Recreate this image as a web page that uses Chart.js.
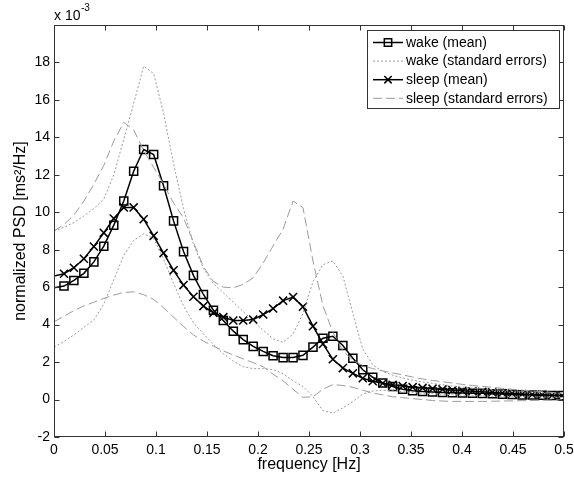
<!DOCTYPE html>
<html>
<head>
<meta charset="utf-8">
<script src="https://cdn.jsdelivr.net/npm/chart.js@4/dist/chart.umd.min.js"></script>
<style>
html,body{margin:0;padding:0;background:#fff;}
#wrap{width:574px;height:477px;position:relative;}
</style>
</head>
<body>
<div id="wrap"><canvas id="c" width="574" height="477"></canvas></div>
<script>
// frequency bins [Hz]
const freq = [0, 0.0098, 0.0195, 0.0293, 0.0391, 0.0488, 0.0586, 0.0684, 0.0781, 0.0879,
  0.0977, 0.1074, 0.1172, 0.1270, 0.1367, 0.1465, 0.1563, 0.1660, 0.1758, 0.1855,
  0.1953, 0.2051, 0.2148, 0.2246, 0.2344, 0.2441, 0.2539, 0.2637, 0.2734, 0.2832,
  0.2930, 0.3027, 0.3125, 0.3223, 0.3320, 0.3418, 0.3516, 0.3613, 0.3711, 0.3809,
  0.3906, 0.4004, 0.4102, 0.4199, 0.4297, 0.4395, 0.4492, 0.4590, 0.4688, 0.4785,
  0.4883, 0.4980];

// normalized PSD (x 10^-3)
const wakeMean = [5.97, 6.06, 6.36, 6.74, 7.35, 8.19, 9.31, 10.6, 12.19, 13.35,
  13.08, 11.42, 9.54, 7.9, 6.63, 5.61, 4.77, 4.22, 3.65, 3.2,
  2.84, 2.57, 2.34, 2.24, 2.24, 2.36, 2.8, 3.27, 3.38, 2.89,
  2.21, 1.59, 1.19, 0.88, 0.7, 0.55, 0.47, 0.43, 0.40, 0.38,
  0.36, 0.35, 0.34, 0.33, 0.31, 0.29, 0.27, 0.25, 0.24, 0.23,
  0.22, 0.21];
const wakeUpper = [9.0, 9.2, 9.45, 9.8, 10.2, 10.7, 12.0, 13.9, 15.8, 17.8,
  17.4, 15.3, 12.6, 10.2, 8.3, 7.0, 6.2, 5.7, 5.2, 4.7,
  4.2, 3.7, 3.25, 3.05, 3.5, 4.6, 6.3, 7.2, 7.4, 6.6,
  4.6, 2.7, 1.85, 1.5, 1.3, 1.15, 1.03, 0.94, 0.86, 0.79,
  0.72, 0.66, 0.61, 0.57, 0.53, 0.49, 0.46, 0.43, 0.40, 0.37,
  0.35, 0.33];
const wakeLower = [2.8, 3.1, 3.45, 3.85, 4.25, 5.1, 6.4, 7.7, 8.5, 8.85,
  8.6, 7.5, 6.2, 5.0, 4.1, 3.5, 2.95, 2.45, 2.05, 1.75,
  1.65, 1.65, 1.6, 1.38, 1.0, 0.7, 0.15, -0.6, -0.72, -0.45,
  -0.1, 0.3, 0.45, 0.5, 0.47, 0.42, 0.38, 0.34, 0.31, 0.28,
  0.26, 0.24, 0.22, 0.20, 0.18, 0.17, 0.16, 0.15, 0.14, 0.13,
  0.12, 0.11];
const sleepMean = [6.6, 6.72, 7.04, 7.52, 8.17, 8.9, 9.67, 10.26, 10.26, 9.63,
  8.74, 7.82, 6.9, 6.11, 5.49, 4.99, 4.63, 4.4, 4.22, 4.22,
  4.27, 4.54, 4.86, 5.28, 5.47, 4.96, 3.92, 2.97, 2.15, 1.68,
  1.4, 1.14, 0.98, 0.87, 0.79, 0.72, 0.66, 0.62, 0.58, 0.54,
  0.5, 0.47, 0.44, 0.41, 0.38, 0.35, 0.32, 0.29, 0.27, 0.25,
  0.23, 0.21];
const sleepUpper = [9.0, 9.35, 9.85, 10.6, 11.5, 12.5, 13.8, 14.8, 14.4, 13.3,
  12.4, 11.5, 10.5, 9.7, 8.4, 7.1, 6.3, 6.0, 5.97, 6.15,
  6.5, 7.3, 8.2, 9.1, 10.6, 10.25, 7.4, 5.0, 3.6, 2.6,
  2.1, 1.82, 1.65, 1.53, 1.42, 1.32, 1.2, 1.1, 1.02, 0.95,
  0.88, 0.81, 0.75, 0.7, 0.65, 0.6, 0.55, 0.5, 0.46, 0.42,
  0.38, 0.34];
const sleepLower = [4.15, 4.45, 4.75, 5.0, 5.2, 5.4, 5.58, 5.72, 5.75, 5.6,
  5.35, 4.9, 4.4, 3.9, 3.45, 3.12, 2.85, 2.6, 2.38, 2.17,
  1.97, 1.75, 1.35, 1.0, 0.55, 0.12, 0.15, 0.55, 0.8, 0.75,
  0.65, 0.5, 0.35, 0.25, 0.15, 0.1, 0.05, 0.0, -0.05, -0.08,
  -0.1, -0.1, -0.1, -0.1, -0.09, -0.08, -0.07, -0.06, -0.05, -0.04,
  -0.03, -0.02];

const xTicks = [0, 0.05, 0.1, 0.15, 0.2, 0.25, 0.3, 0.35, 0.4, 0.45, 0.5];
const yTicks = [-2, 0, 2, 4, 6, 8, 10, 12, 14, 16, 18];
const legendLabels = ['wake (mean)', 'wake (standard errors)', 'sleep (mean)', 'sleep (standard errors)'];

const FONT = "'Liberation Sans', Arial, Helvetica, sans-serif";
const toPts = arr => freq.map((f, i) => ({x: f, y: arr[i]}));
const noFirst = ctx => (ctx.dataIndex === 0 ? 0 : 5.7);

const STD_COLOR = '#9b9b9b';
const wakeStd = {borderColor: STD_COLOR, borderWidth: 1, borderDash: [2, 2], pointRadius: 0};
const sleepStd = {borderColor: STD_COLOR, borderWidth: 1, borderDash: [9, 4], pointRadius: 0};

const datasets = [
  Object.assign({label: 'wake upper', data: toPts(wakeUpper)}, wakeStd),
  Object.assign({label: 'wake lower', data: toPts(wakeLower)}, wakeStd),
  Object.assign({label: 'sleep upper', data: toPts(sleepUpper)}, sleepStd),
  Object.assign({label: 'sleep lower', data: toPts(sleepLower)}, sleepStd),
  {label: 'sleep (mean)', data: toPts(sleepMean), borderColor: '#000', borderWidth: 1.5,
   pointStyle: 'crossRot', pointRadius: noFirst, pointBorderColor: '#000', pointBorderWidth: 1.5,
   pointBackgroundColor: 'rgba(0,0,0,0)'},
  {label: 'wake (mean)', data: toPts(wakeMean), borderColor: '#000', borderWidth: 1.5,
   pointStyle: 'rect', pointRadius: noFirst, pointBorderColor: '#000', pointBorderWidth: 1.5,
   pointBackgroundColor: 'rgba(0,0,0,0)'}
];

const legendItems = [
  {text: legendLabels[0], color: '#000', width: 1.5, dash: [], marker: 'rect'},
  {text: legendLabels[1], color: STD_COLOR, width: 1, dash: [2, 2], marker: null},
  {text: legendLabels[2], color: '#000', width: 1.5, dash: [], marker: 'crossRot'},
  {text: legendLabels[3], color: STD_COLOR, width: 1, dash: [9, 4], marker: null}
];

const framePlugin = {
  id: 'frame',
  afterDraw(chart) {
    const ctx = chart.ctx;
    const a = chart.chartArea;
    const xs = chart.scales.x, ys = chart.scales.y;
    const L = Math.round(a.left) + 0.5, R = Math.round(a.right) - 0.5;
    const T = Math.round(a.top) + 0.5, B = Math.round(a.bottom) - 0.5;
    ctx.save();
    ctx.strokeStyle = '#333';
    ctx.lineWidth = 1;
    ctx.setLineDash([]);
    ctx.strokeRect(L, T, R - L, B - T);
    const tl = 5;
    ctx.beginPath();
    xTicks.forEach(v => {
      const px = Math.round(xs.getPixelForValue(v)) + 0.5;
      ctx.moveTo(px, B); ctx.lineTo(px, B - tl);
      ctx.moveTo(px, T); ctx.lineTo(px, T + tl);
    });
    yTicks.forEach(v => {
      const py = Math.round(ys.getPixelForValue(v)) + 0.5;
      ctx.moveTo(L, py); ctx.lineTo(L + tl, py);
      ctx.moveTo(R, py); ctx.lineTo(R - tl, py);
    });
    ctx.stroke();

    // exponent label
    ctx.fillStyle = '#000';
    ctx.textBaseline = 'alphabetic';
    ctx.textAlign = 'left';
    ctx.font = '14px ' + FONT;
    ctx.fillText('x 10', 54, 20);
    const w = ctx.measureText('x 10').width;
    ctx.font = '10px ' + FONT;
    ctx.fillText('-3', 54 + w + 0.5, 11);

    // legend
    const bx = 367.5, by = 30.5, bw = 192, bh = 78;
    ctx.fillStyle = '#fff';
    ctx.fillRect(bx, by, bw, bh);
    ctx.strokeStyle = '#333';
    ctx.lineWidth = 1;
    ctx.strokeRect(bx, by, bw, bh);
    ctx.font = '14px ' + FONT;
    ctx.textBaseline = 'middle';
    legendItems.forEach((it, i) => {
      const cy = 42.5 + i * 18.6;
      ctx.save();
      ctx.strokeStyle = it.color;
      ctx.lineWidth = it.width;
      ctx.setLineDash(it.dash);
      ctx.beginPath();
      ctx.moveTo(373, cy); ctx.lineTo(403, cy);
      ctx.stroke();
      ctx.restore();
      if (it.marker) {
        ctx.save();
        ctx.strokeStyle = '#000';
        ctx.fillStyle = 'rgba(0,0,0,0)';
        ctx.lineWidth = 1.5;
        Chart.helpers.drawPoint(ctx, {pointStyle: it.marker, radius: 5.2, rotation: 0, borderWidth: 1.5}, 388, cy);
        ctx.restore();
      }
      ctx.fillStyle = '#000';
      ctx.fillText(it.text, 406, cy + 0.5);
    });
    ctx.restore();
  }
};

new Chart(document.getElementById('c'), {
  type: 'line',
  data: {datasets},
  options: {
    responsive: false,
    animation: false,
    devicePixelRatio: 1,
    layout: {padding: {top: 25, right: 10, left: 0, bottom: 0}},
    plugins: {legend: {display: false}, tooltip: {enabled: false}},
    elements: {line: {tension: 0, fill: false}},
    scales: {
      x: {
        type: 'linear', min: 0, max: 0.5,
        afterBuildTicks: s => { s.ticks = xTicks.map(v => ({value: v})); },
        afterFit: s => { s.height = 40; s.paddingLeft = 0; s.paddingRight = 0; },
        grid: {display: false, drawTicks: false},
        border: {display: false},
        ticks: {color: '#000', font: {family: FONT, size: 14}, padding: 5,
                maxRotation: 0, autoSkip: false, callback: v => String(v)},
        title: {display: true, text: 'frequency [Hz]', color: '#000',
                font: {family: FONT, size: 16}, padding: {top: 0, bottom: 3}}
      },
      y: {
        type: 'linear', min: -2, max: 20,
        afterBuildTicks: s => { s.ticks = yTicks.map(v => ({value: v})); },
        afterFit: s => { s.width = 54; s.paddingTop = 0; s.paddingBottom = 0; },
        grid: {display: false, drawTicks: false},
        border: {display: false},
        ticks: {color: '#000', font: {family: FONT, size: 14}, padding: 4,
                autoSkip: false, callback: v => String(v)},
        title: {display: true, text: 'normalized PSD [ms\u00B2/Hz]', color: '#000',
                font: {family: FONT, size: 16}, padding: {top: 11, bottom: 0}}
      }
    }
  },
  plugins: [framePlugin]
});
</script>
</body>
</html>
